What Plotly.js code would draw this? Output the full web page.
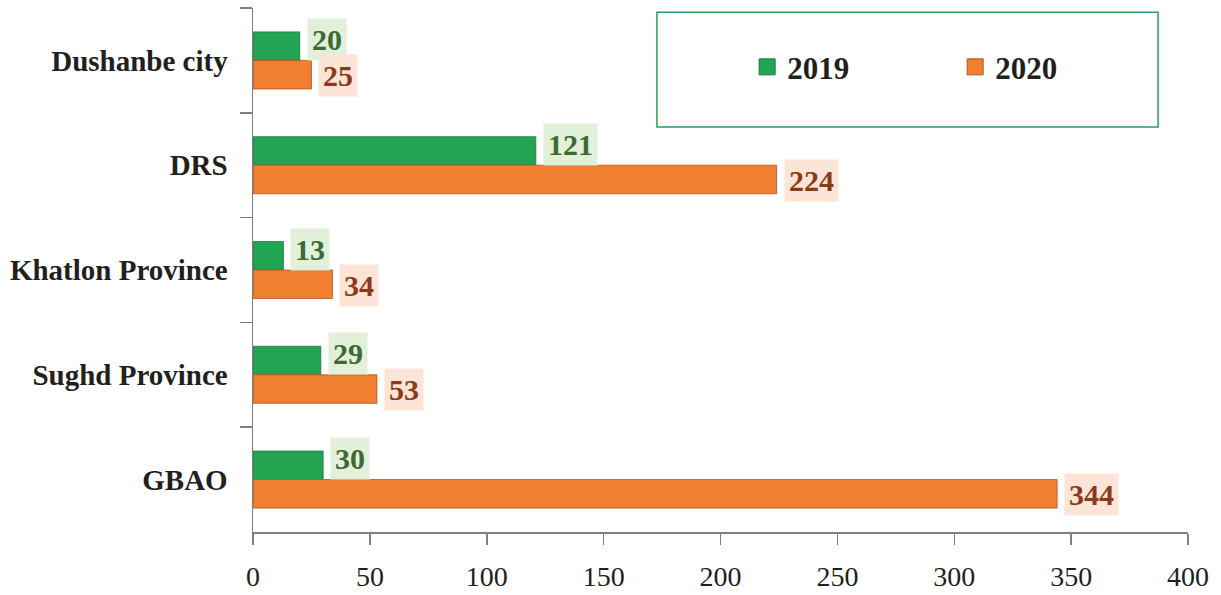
<!DOCTYPE html>
<html>
<head>
<meta charset="utf-8">
<script src="https://cdn.plot.ly/plotly-3.0.1.min.js"></script>
<style>
html,body{margin:0;padding:0;background:#fff;}
#chart{width:1221px;height:595px;}
</style>
</head>
<body>
<div id="chart"></div>
<script>
const categories = ["Dushanbe city", "DRS", "Khatlon Province", "Sughd Province", "GBAO"];
const values2019 = [20, 121, 13, 29, 30];
const values2020 = [25, 224, 34, 53, 344];
const seriesNames = ["2019", "2020"];
const xTicks = [0, 50, 100, 150, 200, 250, 300, 350, 400];

const FONT = "Liberation Serif, Times New Roman, serif";
const green = "#22a452", greenEdge = "#1a7a3c", greenText = "#3b6a33", greenBg = "#e2efd9";
const orange = "#f07f30", orangeEdge = "#b5521e", orangeText = "#8c3a1a", orangeBg = "#fce4d6";

const traces = [
  {type:"bar", orientation:"h", name:seriesNames[0], y:categories, x:values2019, showlegend:false,
   marker:{color:green, line:{color:greenEdge, width:0.8}}, hoverinfo:"x"},
  {type:"bar", orientation:"h", name:seriesNames[1], y:categories, x:values2020, showlegend:false,
   marker:{color:orange, line:{color:orangeEdge, width:0.8}}, hoverinfo:"x"},
  // legend-only entries (larger square symbols)
  {type:"scatter", mode:"markers", name:seriesNames[0], x:[null], y:[null], showlegend:true,
   marker:{symbol:"square", size:16, color:green, line:{color:greenEdge, width:1}}},
  {type:"scatter", mode:"markers", name:seriesNames[1], x:[null], y:[null], showlegend:true,
   marker:{symbol:"square", size:16, color:orange, line:{color:orangeEdge, width:1}}}
];

const annotations = [];
categories.forEach((c,i)=>{
  annotations.push({x:values2019[i], y:c, xref:"x", yref:"y", text:"<b>"+values2019[i]+"</b>",
    showarrow:false, xanchor:"left", yanchor:"middle", xshift:7, yshift:21,
    font:{family:FONT, size:30, color:greenText}, bgcolor:greenBg, borderpad:4});
  annotations.push({x:values2020[i], y:c, xref:"x", yref:"y", text:"<b>"+values2020[i]+"</b>",
    showarrow:false, xanchor:"left", yanchor:"middle", xshift:7, yshift:-15,
    font:{family:FONT, size:30, color:orangeText}, bgcolor:orangeBg, borderpad:4});
});

const layout = {
  width:1221, height:595,
  margin:{l:253, r:33, t:8, b:63},
  paper_bgcolor:"#fff", plot_bgcolor:"#fff",
  barmode:"group", bargap:0.456, bargroupgap:0,
  font:{family:FONT, color:"#231f20"},
  xaxis:{range:[0,400], tickvals:xTicks, ticktext:xTicks.map(String), showgrid:false, zeroline:false,
    showline:true, linecolor:"#808080", linewidth:1.5, ticks:"outside", ticklen:11, tickwidth:1.5,
    tickcolor:"#808080", tickfont:{family:FONT, size:28, color:"#231f20"}, ticklabelstandoff:8, fixedrange:true},
  yaxis:{type:"category", autorange:"reversed", showgrid:false, zeroline:false, showline:true,
    linecolor:"#808080", linewidth:1.5, ticks:"outside", ticklen:12, tickwidth:1.5, tickcolor:"#808080",
    tickson:"boundaries", tickfont:{family:FONT, size:29, color:"#231f20", weight:"bold"},
    ticklabelstandoff:18, fixedrange:true},
  showlegend:true,
  legend:{orientation:"h", x:0.5285, xanchor:"left", y:0.887, yanchor:"middle",
    bgcolor:"rgba(0,0,0,0)", entrywidth:163, traceorder:"normal",
    font:{family:FONT, size:31, color:"#231f20", weight:"bold"}},
  shapes:[{type:"rect", xref:"paper", yref:"paper", x0:0.432, x1:0.968, y0:0.773, y1:0.992,
    line:{color:"#2e9a5a", width:1.5}, fillcolor:"rgba(0,0,0,0)"}],
  annotations:annotations
};

Plotly.newPlot("chart", traces, layout, {displayModeBar:false, staticPlot:true});
</script>
</body>
</html>
